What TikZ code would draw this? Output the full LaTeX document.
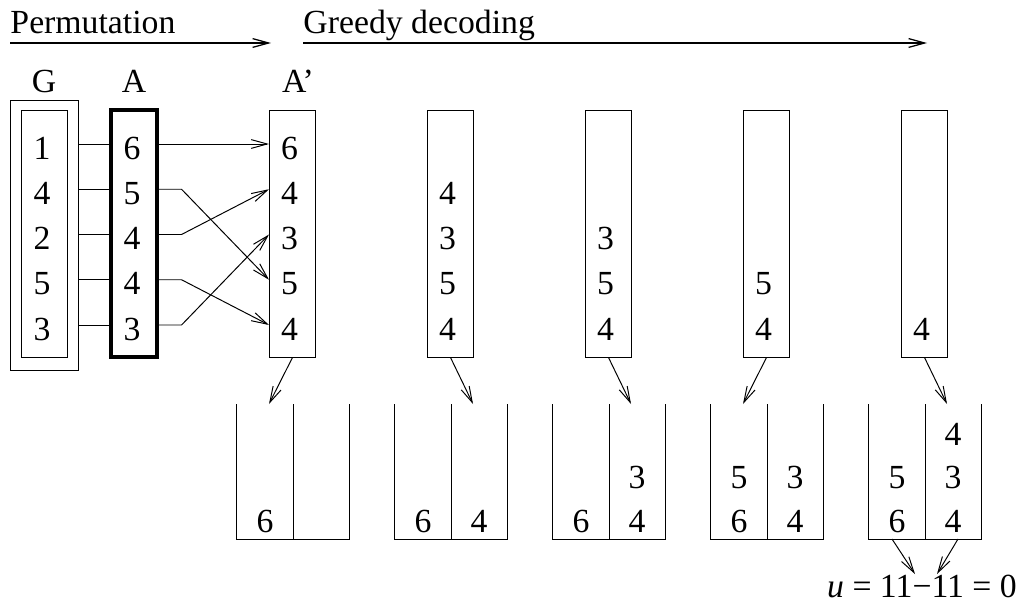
\documentclass[tikz,border=0pt]{standalone}
\usepackage{fontspec}
\setmainfont{Liberation Serif}
\usetikzlibrary{positioning,calc,arrows.meta}

\begin{document}
\begin{tikzpicture}[x=0.25mm, y=-0.25mm, line width=0.7pt,
    every node/.style={font=\fontsize{24}{28}\selectfont},
    tip/.style={-{Straight Barb[length=4mm,width=2.2mm]}},
    colbox/.style={draw, minimum width=11.5mm, minimum height=61.75mm, inner sep=0pt},
    digit/.style={inner sep=0pt},
    heading/.style={anchor=base west, inner sep=0pt}]
            \useasboundingbox (0,0) rectangle (1024,611);
            %Headings
            \node[heading] (perm) at (10,34) {Permutation};
            \node[heading] (greedy) at (303,34) {Greedy decoding};
            \coordinate (permend) at (271,43);
            \coordinate (greedyend) at (927,43);
            \draw[tip, line width=0.9pt] (perm.west |- permend) -- (permend);
            \draw[tip, line width=0.9pt] (greedy.west |- greedyend) -- (greedyend);
            %Boxes
            \node[colbox, minimum width=17mm, minimum height=67.5mm] (gout) at (44,235) {};
            \node[colbox] (gbox) at (44,233.5) {};
            \node[colbox, line width=2.2pt] (abox) at (134,233.5) {};
            \foreach \k in {0,...,4}
                \node[colbox] (col\k) at (292.5+158*\k,233.5) {};
            \node[anchor=base] (glabel) at (44,93) {G};
            \node[anchor=base] (alabel) at (134,93) {A};
            \node[anchor=base] (aplabel) at (298,93) {A'};
            %Rows of G and A
            \foreach \g/\a [count=\i] in {1/6,4/5,2/4,5/4,3/3} {
                \coordinate (r\i) at (0,98.75+45.25*\i);
                \node[digit] (g\i) at ($(gbox.center |- r\i)+(-2,4)$) {\g};
                \node[digit] (a\i) at ($(abox.center |- r\i)+(-2,4)$) {\a};
                \draw (gout.east |- r\i) -- (abox.west |- r\i);
            }
            %Permutation
            \draw[tip] (abox.east |- r1) -- (col0.west |- r1);
            \foreach \s/\t in {2/4,3/2,4/5,5/3}
                \draw[tip] (abox.east |- r\s) -- ++(23,0) -- (col0.west |- r\t);
            %Columns of A'
            \foreach \d [count=\i] in {6,4,3,5,4}
                \foreach \k in {0,...,4} {
                    \ifnum\k<\i
                        \node[digit] (c\k-\i) at ($(col\k.center |- r\i)+(-3,4)$) {\d};
                    \fi
                }
            %Buckets
            \foreach \k/\s in {0/-24,1/22,2/22,3/-24,4/22} {
                \coordinate (b\k) at (293+158*\k,404);
                \coordinate (bb\k) at (293+158*\k,539);
                \draw ($(b\k)+(-57,0)$) |- ($(bb\k)+(56,0)$) -- ++(0,-135);
                \draw (b\k) -- (bb\k);
                \draw[tip] (col\k.south) -- ($(b\k)+(\s,0)$);
            }
            \foreach \k/\x/\l/\d [count=\n] in {0/-28/1/6, 1/-28/1/6, 1/28/1/4,
                    2/-28/1/6, 2/28/1/4, 2/28/2/3,
                    3/-28/1/6, 3/-28/2/5, 3/28/1/4, 3/28/2/3,
                    4/-28/1/6, 4/-28/2/5, 4/28/1/4, 4/28/2/3, 4/28/3/4}
                \node[digit] (bd\n) at ($(bb\k)+(\x,25.5-43.5*\l)$) {\d};
            %Result
            \node[anchor=base, inner sep=0pt] (u) at (922,597) {\textit{u} = 11−11 = 0};
            \draw[tip] ($(bb4)+(-33,0)$) -- ($(u.north)+(-7,0)$);
            \draw[tip] ($(bb4)+(33,0)$) -- ($(u.north)+(15,0)$);
        \end{tikzpicture}
\end{document}
